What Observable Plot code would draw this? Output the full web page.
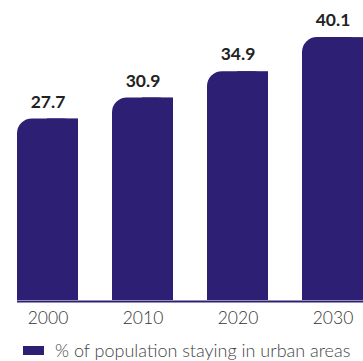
<!DOCTYPE html>
<html>
<head>
<meta charset="utf-8">
<script src="https://cdn.jsdelivr.net/npm/d3@7"></script>
<script src="https://cdn.jsdelivr.net/npm/@observablehq/plot@0.6"></script>
<style>
  html, body { margin: 0; padding: 0; background: #fff; }
  #chart { width: 363px; }
  .legend { display: flex; align-items: center; font-family: Lato, sans-serif; font-weight: 300; font-size: 18px; color: #444; margin-top: 9px; padding-left: 23px; white-space: nowrap; }
  .legend .sw { width: 21px; height: 9px; background: #2d1f73; margin-right: 11px; flex: none; }
</style>
</head>
<body>
<div id="chart"></div>
<script>
const years = ["2000", "2010", "2020", "2030"];
const values = [27.7, 30.9, 34.9, 40.1];
const seriesName = "% of population staying in urban areas";

const data = years.map((y, i) => ({year: y, value: values[i]}));
const color = "#2d1f73";

const plot = Plot.plot({
  width: 363,
  height: 330,
  marginTop: 5,
  marginBottom: 30,
  marginLeft: 17,
  marginRight: 0,
  style: {fontFamily: "Lato, sans-serif", background: "#fff"},
  x: {domain: years, paddingInner: 0.358, paddingOuter: 0, label: null},
  y: {domain: [0, 45], axis: null},
  marks: [
    Plot.barY(data, {x: "year", y: "value", fill: color, rx: 15}),
    Plot.barY(data, {x: "year", y: "value", fill: color, insetTop: 15}),
    Plot.barY(data, {x: "year", y: "value", fill: color, insetLeft: 30}),
    Plot.ruleY([0], {stroke: color, strokeWidth: 2, dy: 1}),
    Plot.text(data, {x: "year", y: "value", text: d => d.value.toFixed(1), dy: -17, fontSize: 17.5, fontWeight: "bold", fill: "#222"}),
    Plot.axisX({tickSize: 0, tickPadding: 11, fontSize: 17.5, fontWeight: 300, fill: "#333", label: null})
  ]
});
document.getElementById("chart").appendChild(plot);

const legend = document.createElement("div");
legend.className = "legend";
legend.innerHTML = `<span class="sw"></span><span></span>`;
legend.lastChild.textContent = seriesName;
document.getElementById("chart").appendChild(legend);
</script>
</body>
</html>
